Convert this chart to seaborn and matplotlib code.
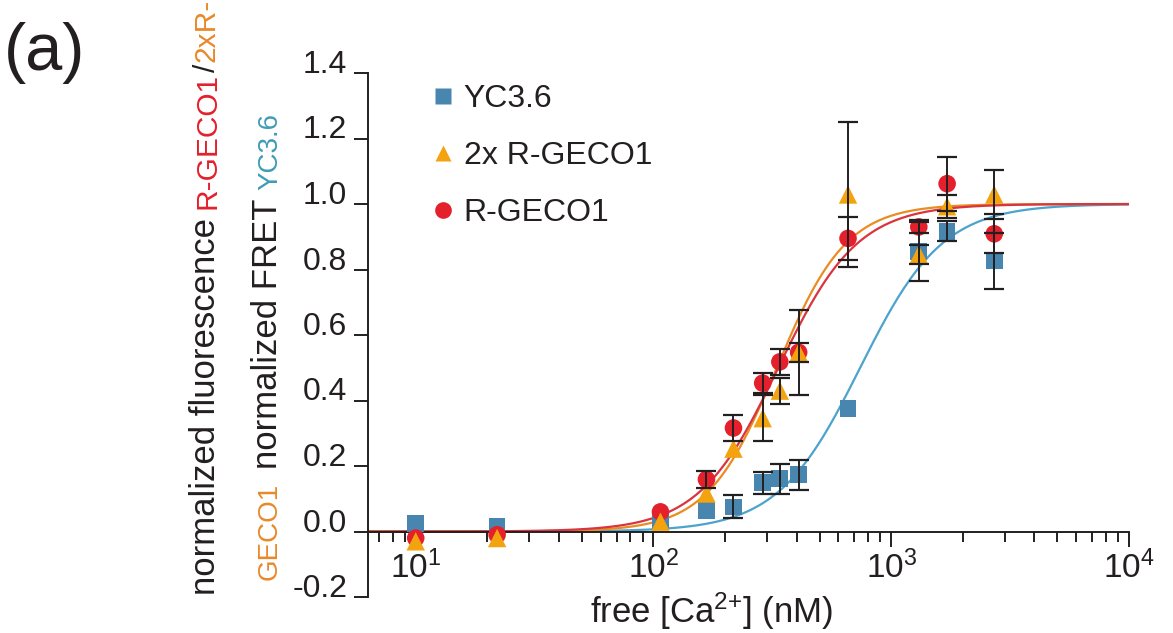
import numpy as np
import pandas as pd
import matplotlib
matplotlib.use("Agg")
import matplotlib.pyplot as plt
import seaborn as sns
from matplotlib.lines import Line2D
from matplotlib.ticker import FixedLocator, FixedFormatter, LogLocator, NullFormatter

# ---------------- data ----------------
ca_nM = [10, 22, 107, 167, 217, 288, 340, 408, 658, 1306, 1718, 2711]

yc36 = [0.025, 0.015, 0.034, 0.065, 0.075, 0.149, 0.161, 0.173, 0.376, 0.856, 0.917, 0.826]
yc36_err = [0, 0, 0, 0, 0.035, 0.033, 0.045, 0.045, 0, 0.09, 0.03, 0.085]

rgeco2x = [-0.03, -0.02, 0.03, 0.116, 0.253, 0.346, 0.43, 0.547, 1.029, 0.846, 0.993, 1.029]
rgeco2x_err = [0, 0, 0, 0, 0, 0.07, 0.04, 0.13, 0.22, 0.03, 0.035, 0.075]

rgeco1 = [-0.02, -0.01, 0.06, 0.159, 0.316, 0.453, 0.518, 0.547, 0.895, 0.93, 1.062, 0.909]
rgeco1_err = [0, 0, 0, 0.025, 0.04, 0.03, 0.04, 0.03, 0.065, 0.02, 0.083, 0.06]

series_names = ["YC3.6", "2x R-GECO1", "R-GECO1"]
# Hill-fit parameters of the drawn fit curves (Kd in nM, Hill coefficient)
fit_kd_nM = [740, 330, 335]
fit_hill = [2.5, 2.97, 2.6]

y_ticks = [-0.2, 0.0, 0.2, 0.4, 0.6, 0.8, 1.0, 1.2, 1.4]
y_tick_labels = ["-0.2", "0.0", "0.2", "0.4", "0.6", "0.8", "1.0", "1.2", "1.4"]
x_ticks = [10, 100, 1000, 10000]
x_tick_labels = [r"$\mathdefault{10^{1}}$", r"$\mathdefault{10^{2}}$",
                 r"$\mathdefault{10^{3}}$", r"$\mathdefault{10^{4}}$"]

# ---------------- style ----------------
marker_colors = ["#4886B0", "#F2A30F", "#E3202B"]
curve_colors = ["#4BA3CE", "#EA8C22", "#D8353F"]
markers = ["s", "^", "o"]
marker_sizes = [145, 175, 160]
zorders = [3, 5, 4]
INK = "#231f20"

W, H = 1173, 633
sns.set_theme(style="white")
plt.rcParams["font.family"] = ["Liberation Sans", "DejaVu Sans"]
plt.rcParams["mathtext.fontset"] = "custom"
plt.rcParams["mathtext.rm"] = "Liberation Sans"
plt.rcParams["mathtext.it"] = "Liberation Sans:italic"
plt.rcParams["mathtext.default"] = "regular"
plt.rcParams["axes.unicode_minus"] = False
plt.rcParams["text.color"] = INK

fig = plt.figure(figsize=(W / 100, H / 100), dpi=100)
ax = fig.add_axes([368 / W, 36 / H, (1129 - 368) / W, (597 - 73) / H])
ax.set_xscale("log")
ax.set_xlim(6.3, 10000)
ax.set_ylim(-0.2, 1.4)

# fit curves
xfit = np.logspace(np.log10(6.3), 4, 400)
frames = []
for name, kd, n in zip(series_names, fit_kd_nM, fit_hill):
    frames.append(pd.DataFrame({"x": xfit, "y": xfit ** n / (kd ** n + xfit ** n), "series": name}))
fitdf = pd.concat(frames, ignore_index=True)
sns.lineplot(data=fitdf, x="x", y="y", hue="series", hue_order=series_names,
             palette=dict(zip(series_names, curve_colors)), linewidth=1.6,
             estimator=None, sort=False, legend=False, ax=ax, zorder=2)

# data points
values = [yc36, rgeco2x, rgeco1]
errors = [yc36_err, rgeco2x_err, rgeco1_err]
for name, vals, errs, col, mk, sz, z in zip(series_names, values, errors, marker_colors,
                                             markers, marker_sizes, zorders):
    df = pd.DataFrame({"x": ca_nM, "y": vals, "err": errs})
    sns.scatterplot(data=df, x="x", y="y", marker=mk, s=sz, color=col, edgecolor="none",
                    linewidth=0, ax=ax, zorder=z, legend=False)
    e = df[df["err"] > 0]
    ax.errorbar(e["x"], e["y"], yerr=e["err"], fmt="none", ecolor=INK, elinewidth=1.4,
                capsize=7, capthick=1.6, zorder=6)

# spines
ax.spines["top"].set_visible(False)
ax.spines["right"].set_visible(False)
ax.spines["bottom"].set_position(("data", 0))
ax.spines["left"].set_bounds(-0.2, 1.4)
for sp in ("left", "bottom"):
    ax.spines[sp].set_color(INK)
    ax.spines[sp].set_linewidth(1.4)

# ticks
ax.xaxis.set_major_locator(FixedLocator(x_ticks))
ax.xaxis.set_major_formatter(FixedFormatter(x_tick_labels))
ax.xaxis.set_minor_locator(LogLocator(base=10, subs=range(2, 10), numticks=20))
ax.xaxis.set_minor_formatter(NullFormatter())
ax.yaxis.set_major_locator(FixedLocator(y_ticks))
ax.yaxis.set_major_formatter(FixedFormatter(y_tick_labels))
ax.tick_params(axis="x", which="major", bottom=True, direction="out", length=11, width=1.4,
               labelsize=24, pad=3, color=INK, labelcolor=INK)
ax.tick_params(axis="x", which="minor", bottom=True, direction="out", length=7, width=1.4, color=INK)
ax.tick_params(axis="y", which="major", left=True, direction="out", length=10, width=1.4,
               labelsize=23, pad=5, color=INK, labelcolor=INK)
ax.set_ylabel("")
for t in ax.get_yticklabels():
    t.set_va("baseline")

# x label
ax.set_xlabel("free [Ca$^{2{+}}$] (nM)", fontsize=25, color=INK)
ax.xaxis.set_label_coords((712 - 368) / 761, (597 - 590) / 524)

# legend
handles = [Line2D([], [], linestyle="none", marker=m, markersize=11, markerfacecolor=c,
                  markeredgecolor="none") for m, c in zip(markers, marker_colors)]
handles[2].set_markersize(12)
fig.legend(handles, series_names, loc="upper left", bbox_to_anchor=(430 / W, 1 - 84 / H),
           frameon=False, fontsize=23, handlelength=0.8, handletextpad=0.25,
           labelspacing=0.85, borderpad=0, borderaxespad=0, labelcolor=INK)

# panel label
fig.text(4 / W, 1 - 22 / H, "(a)", fontsize=48, va="top", ha="left", color=INK)

# composite multi-coloured y-axis label (two rotated lines)
fig.canvas.draw()
renderer = fig.canvas.get_renderer()


def stack_vertical(x_px, y_px, segments):
    y = y_px
    for text, color, size, gap in segments:
        t = fig.text(x_px / W, y / H, text, rotation=90, rotation_mode="anchor",
                     ha="left", va="baseline", color=color, fontsize=size)
        bb = t.get_window_extent(renderer)
        y += bb.height + gap


stack_vertical(215, 633 - 595, [
    ("normalized fluorescence", INK, 25, 9),
    ("R-GECO1", "#E3202B", 21.5, 1),
    ("/", INK, 21.5, 2),
    ("2xR-", "#E8892A", 21.5, 0),
])
stack_vertical(277, 633 - 580, [
    ("GECO1", "#E8892A", 20, 14),
    ("normalized FRET", INK, 25, 8),
    ("YC3.6", "#3E9CB5", 20, 0),
])

fig.savefig("out.png", dpi=100)
